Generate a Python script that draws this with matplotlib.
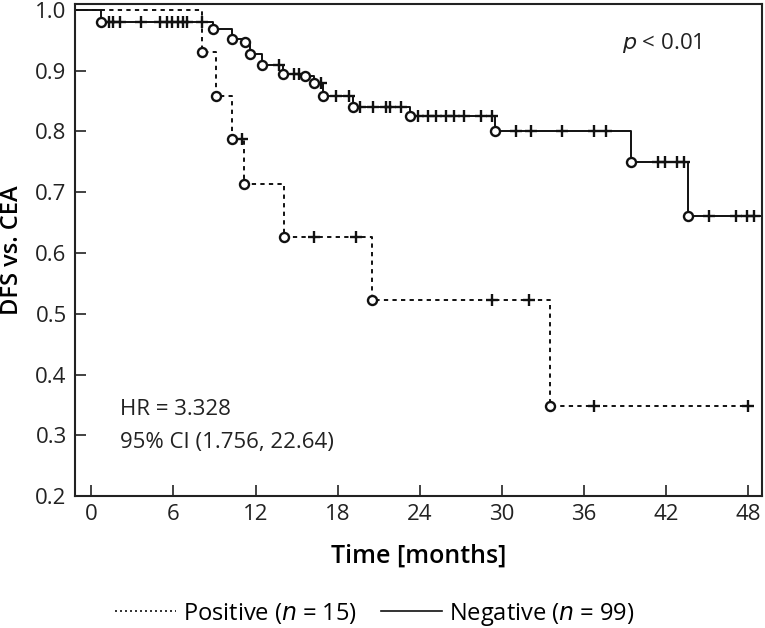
import numpy as np
import matplotlib.pyplot as plt
from matplotlib.lines import Line2D

plt.rcParams['font.family'] = ['Open Sans', 'DejaVu Sans']

# Kaplan-Meier data (months, survival after each event)
pos_event_t = [8.1, 9.1, 10.3, 11.15, 14.1, 20.5, 33.5]
pos_event_s = [0.930, 0.859, 0.787, 0.713, 0.627, 0.522, 0.348]
pos_cens_t = [11.0, 16.3, 19.3, 29.3, 32.0, 36.7, 48.0]
pos_end = 48.3

neg_event_t = [0.7, 8.9, 10.3, 11.2, 11.6, 12.5, 14.0, 15.6, 16.3, 16.9,
               19.1, 23.3, 29.5, 39.4, 43.6]
neg_event_s = [0.980, 0.968, 0.952, 0.947, 0.928, 0.909, 0.895, 0.891, 0.879, 0.858,
               0.840, 0.826, 0.800, 0.750, 0.661]
neg_cens_t = [1.3, 1.6, 2.1, 3.6, 5.0, 5.5, 5.9, 6.3, 6.7, 7.0, 8.1,
              13.7, 14.8, 15.2, 16.8, 17.9, 18.8, 19.6, 20.6, 21.5, 21.8, 22.6,
              23.9, 24.6, 25.2, 25.9, 26.5, 27.2, 28.5, 29.3,
              31.0, 32.1, 34.4, 36.7, 37.6, 41.4, 41.9, 42.8, 43.3,
              45.1, 47.1, 47.9, 48.4]
neg_end = 49.0

x_ticks = [0, 6, 12, 18, 24, 30, 36, 42, 48]
y_ticks = [0.2, 0.3, 0.4, 0.5, 0.6, 0.7, 0.8, 0.9, 1.0]
XMIN, XMAX = -1.2, 49.0


def surv_at(ev_t, ev_s, t):
    idx = np.searchsorted(ev_t, t, side='right')
    s = np.concatenate([[1.0], ev_s])
    return s[idx]


fig = plt.figure(figsize=(7.65, 6.28), dpi=100)
ax = fig.add_axes([0.098, 0.210, 0.898, 0.784])

dotted = (0, (2.2, 2.2))
curves = [
    (pos_event_t, pos_event_s, pos_cens_t, pos_end, dotted),
    (neg_event_t, neg_event_s, neg_cens_t, neg_end, '-'),
]
for ev_t, ev_s, cens_t, t_end, ls in curves:
    tt = np.concatenate([[XMIN], ev_t, [t_end]])
    ss = np.concatenate([[1.0], ev_s, [ev_s[-1]]])
    ax.step(tt, ss, where='post', color='#111111', lw=1.4, linestyle=ls, zorder=2)
    ax.plot(cens_t, surv_at(ev_t, ev_s, cens_t), linestyle='none', marker='+',
            ms=8, mew=1.7, color='#111111', zorder=3)
    ax.plot(ev_t, ev_s, linestyle='none', marker='o', ms=6.5, mew=1.7,
            mfc='white', mec='#111111', zorder=4)

ax.set_xlim(XMIN, XMAX)
ax.set_ylim(0.2, 1.01)
ax.set_xticks(x_ticks)
ax.set_yticks(y_ticks)
ax.set_yticklabels([f'{v:.1f}' for v in y_ticks])
ax.tick_params(direction='in', length=8, width=1.2, labelsize=16,
               colors='#222222', pad=6)
for sp in ax.spines.values():
    sp.set_linewidth(1.5)
    sp.set_color('#222222')

ax.set_xlabel('Time [months]', fontsize=18, fontweight='semibold', labelpad=13)
ax.set_ylabel('DFS vs. CEA', fontsize=17, fontweight='semibold', labelpad=8)

ax.text(0.854, 0.92, r'$\it{p}$ < 0.01', transform=ax.transAxes, fontsize=16,
        ha='center', va='center', color='#222222')
ax.text(0.066, 0.175, 'HR = 3.328', transform=ax.transAxes, fontsize=16,
        ha='left', va='center', color='#222222')
ax.text(0.066, 0.108, '95% CI (1.756, 22.64)', transform=ax.transAxes, fontsize=16,
        ha='left', va='center', color='#222222')

handles = [
    Line2D([0], [0], color='#111111', lw=1.2, linestyle=(0, (1.2, 1.8)),
           label='Positive ($\\it{n}$ = 15)'),
    Line2D([0], [0], color='#111111', lw=1.2, linestyle='-',
           label='Negative ($\\it{n}$ = 99)'),
]
fig.legend(handles=handles, loc='center', bbox_to_anchor=(0.49, 0.022), ncol=2,
           frameon=False, fontsize=17, handlelength=2.6, handletextpad=0.3,
           columnspacing=1.0)

fig.savefig('out.png', dpi=100)
